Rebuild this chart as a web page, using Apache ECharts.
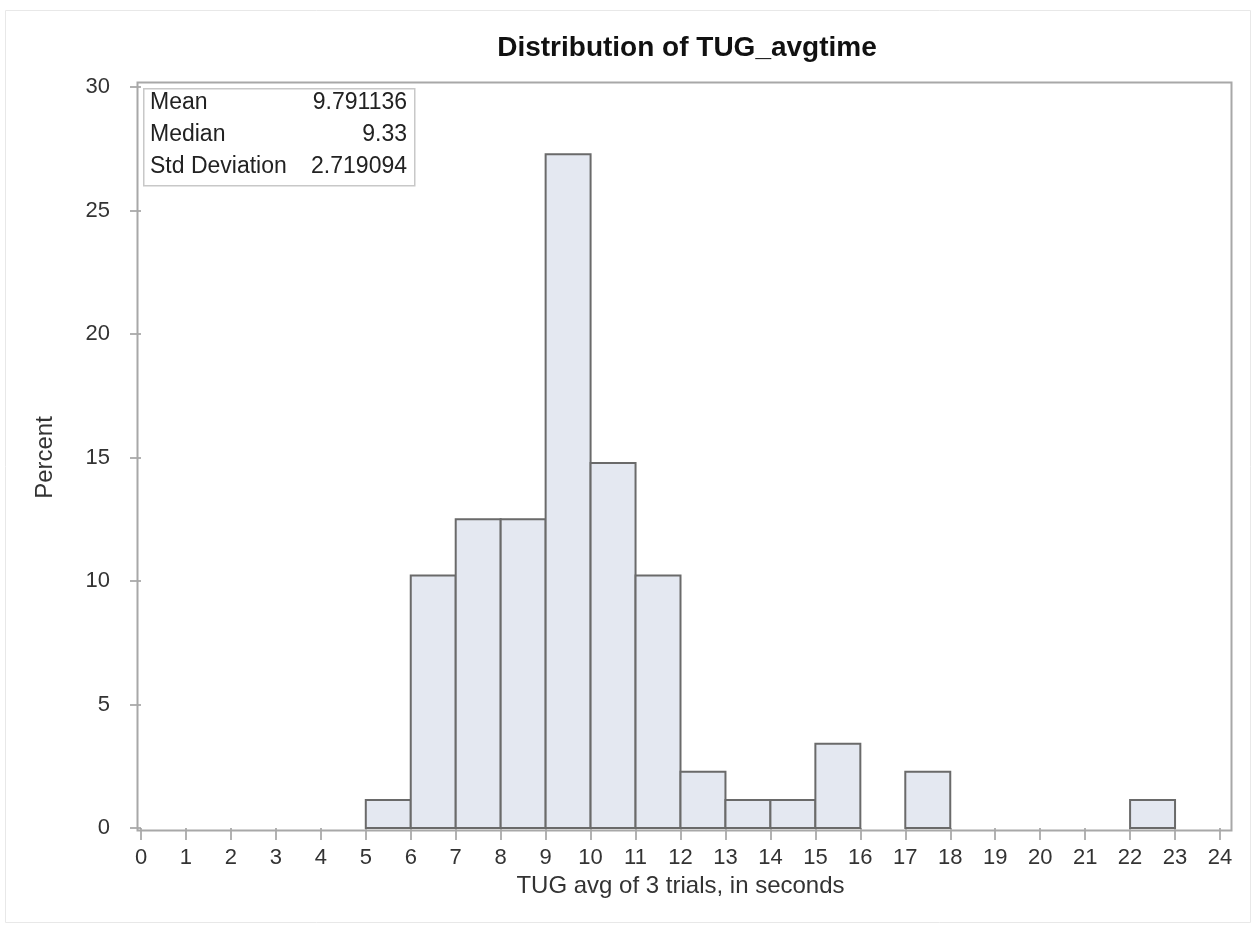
<!DOCTYPE html>
<html>
<head>
<meta charset="utf-8">
<script src="https://cdn.jsdelivr.net/npm/echarts@6/dist/echarts.min.js"></script>
<style>html,body{margin:0;padding:0;background:#fff}#c{width:1252px;height:940px}</style>
</head>
<body>
<div id="c"></div>
<script>
const titleText = 'Distribution of TUG_avgtime';
const xAxisName = 'TUG avg of 3 trials, in seconds';
const yAxisName = 'Percent';
const binStarts = [5, 6, 7, 8, 9, 10, 11, 12, 13, 14, 15, 16, 17, 18, 19, 20, 21, 22];
const binWidth = 1;
const percents = [1.136, 10.227, 12.5, 12.5, 27.273, 14.773, 10.227, 2.273, 1.136, 1.136, 3.409, 0, 2.273, 0, 0, 0, 0, 1.136];
const statLabels = ['Mean', 'Median', 'Std Deviation'];
const statValues = ['9.791136', '9.33', '2.719094'];

const chart = echarts.init(document.getElementById('c'));
const font = 'Liberation Sans, Arial, sans-serif';
const data = binStarts.map((s, i) => [s, s + binWidth, percents[i]]);

const statGraphics = [];
statLabels.forEach((l, i) => {
  statGraphics.push({type: 'text', x: 150, y: 103 + i * 32, style: {text: l, font: '23px ' + font, fill: '#222', textVerticalAlign: 'middle', verticalAlign: 'middle'}});
  statGraphics.push({type: 'text', x: 407, y: 103 + i * 32, style: {text: statValues[i], font: '23px ' + font, fill: '#222', textAlign: 'right', align: 'right', textVerticalAlign: 'middle', verticalAlign: 'middle'}});
});

chart.setOption({
  animation: false,
  backgroundColor: '#fff',
  title: {
    text: titleText, left: 682, top: 29, textAlign: 'center',
    textStyle: {fontFamily: font, fontWeight: 'bold', fontSize: 28, color: '#111'}
  },
  grid: {left: 141, right: 32, top: 87, bottom: 112, containLabel: false},
  xAxis: {
    type: 'value', min: 0, max: 24, interval: 1,
    name: xAxisName, nameLocation: 'middle', nameGap: 37,
    nameTextStyle: {fontFamily: font, fontSize: 24, color: '#333'},
    axisLine: {show: false},
    axisTick: {show: true, length: 12, lineStyle: {color: '#999', width: 1.5}},
    axisLabel: {fontFamily: font, fontSize: 22, color: '#333', margin: 19},
    splitLine: {show: false}
  },
  yAxis: {
    type: 'value', min: 0, max: 30, interval: 5, offset: 6,
    name: yAxisName, nameLocation: 'middle', nameGap: 78, nameRotate: 90,
    nameTextStyle: {fontFamily: font, fontSize: 24, color: '#333'},
    axisLine: {show: false},
    axisTick: {show: true, length: 11, lineStyle: {color: '#999', width: 1.5}},
    axisLabel: {fontFamily: font, fontSize: 22, color: '#333', margin: 25},
    splitLine: {show: false}
  },
  graphic: [
    {type: 'rect', left: 3, top: 8, shape: {width: 1245, height: 912}, style: {fill: 'none', stroke: '#e8e8e8', lineWidth: 1}, silent: true},
    {type: 'rect', left: 135, top: 80, shape: {x: 0, y: 0, width: 1094, height: 748}, style: {fill: 'none', stroke: '#a8a8a8', lineWidth: 2}, z: 10, silent: true},
    {type: 'rect', left: 143, top: 88, shape: {width: 271, height: 97}, style: {fill: '#fff', stroke: '#c8c8c8', lineWidth: 1.5}, z: 11, silent: true},
    ...statGraphics.map(g => Object.assign(g, {z: 12}))
  ],
  series: [{
    type: 'custom',
    data: data,
    renderItem: function (params, api) {
      const v = api.value(2);
      if (!v) return null;
      const p0 = api.coord([api.value(0), v]);
      const p1 = api.coord([api.value(1), 0]);
      return {
        type: 'rect',
        shape: {x: p0[0], y: p0[1], width: p1[0] - p0[0], height: p1[1] - p0[1]},
        style: {fill: '#e4e8f1', stroke: '#6a6a6a', lineWidth: 2}
      };
    }
  }]
});
</script>
</body>
</html>
